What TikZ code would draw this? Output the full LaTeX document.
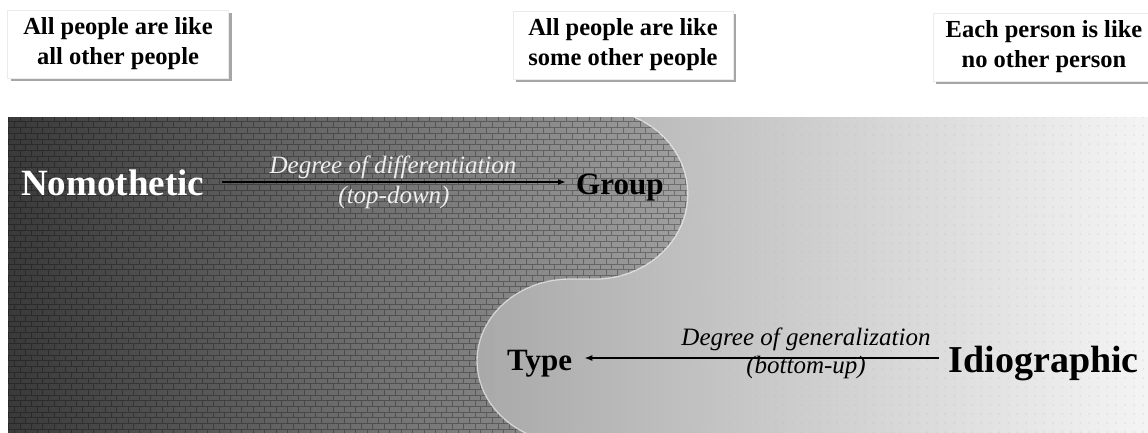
\documentclass[tikz,border=0pt]{standalone}
\usepackage{fontspec}
\setmainfont{Liberation Serif}
\usetikzlibrary{arrows.meta,patterns,patterns.meta,shadows}
\definecolor{darkL}{RGB}{58,58,58}
\definecolor{darkR}{RGB}{160,160,160}
\definecolor{lightL}{RGB}{116,116,116}
\definecolor{lightR}{RGB}{244,244,244}
\definecolor{whitetxt}{RGB}{238,238,238}
\begin{document}
\begin{tikzpicture}[x=1pt,y=-1pt,
  topbox/.style={fill=white, draw=black!8, minimum width=#1, minimum height=68pt,
    align=center, inner sep=0pt, font=\fontsize{24.5}{30}\selectfont\bfseries,
    drop shadow={shadow xshift=3pt, shadow yshift=-3pt, fill=black!50, opacity=0.7}},
  bigword/.style={inner sep=0pt, font=\fontsize{#1}{#1}\selectfont\bfseries},
  slabel/.style={inner sep=0pt, anchor=base, font=\fontsize{25}{25}\selectfont\itshape},
  conn/.style={line width=1.8pt, -{Latex[length=8pt,width=6pt]}}]
\useasboundingbox (0,0) rectangle (1148,432);
% banner background (light side)
\shade[left color=lightL, right color=lightR] (8,117) rectangle (1148,432);
\fill[pattern={Dots[distance=9pt,radius=0.5pt]}, pattern color=black!30] (8,117) rectangle (1148,432);
% dark side
\begin{scope}
  \clip (8,117) -- (634,117) arc[start angle=-65, end angle=90, x radius=93, y radius=85]
     -- (570,279) arc[start angle=270, end angle=118, x radius=93, y radius=82]
     -- (8,440) -- cycle;
  \shade[left color=darkL, right color=darkR] (8,117) rectangle (688,432);
  \fill[pattern=bricks, pattern color=black, opacity=0.3] (8,117) rectangle (688,432);
\end{scope}
\begin{scope}
  \clip (8,117) rectangle (1148,432);
  \draw[white, opacity=0.6, line width=1.3pt] (634,117) arc[start angle=-65, end angle=90, x radius=93, y radius=85]
     -- (570,279) arc[start angle=270, end angle=118, x radius=93, y radius=82];
\end{scope}
% top boxes
\node[topbox=221pt] (b1) at (118,44) {All people are like\\all other people};
\node[topbox=220pt] (b2) at (623,45) {All people are like\\some other people};
\node[topbox=222pt] (b3) at (1044,47) {Each person is like\\no other person};
% main words
\node[bigword=37, text=white, anchor=base west] (nomo) at (21,195) {Nomothetic};
\node[bigword=31, anchor=base west] (group) at (576,194) {Group};
\node[bigword=31, anchor=base west] (type) at (507,370) {Type};
\node[bigword=38, anchor=base east] (idio) at (1139,372) {Idiographic};
% connectors
\coordinate (a1) at ([yshift=13pt]nomo.base east);
\coordinate (a2) at ([yshift=14pt]idio.base west);
\draw[conn, shorten <=18pt, shorten >=10pt] (a1) -- (a1 -| group.west);
\draw[conn, shorten <=10pt, shorten >=12pt] (a2) -- (a2 -| type.east);
% connector labels
\node[slabel, text=whitetxt] (l1) at (393,173) {Degree of differentiation};
\node[slabel, text=whitetxt] (l1b) at (394,203) {(top-down)};
\node[slabel] (l2) at (806,345) {Degree of generalization};
\node[slabel] (l2b) at (806,373) {(bottom-up)};
\end{tikzpicture}
\end{document}
